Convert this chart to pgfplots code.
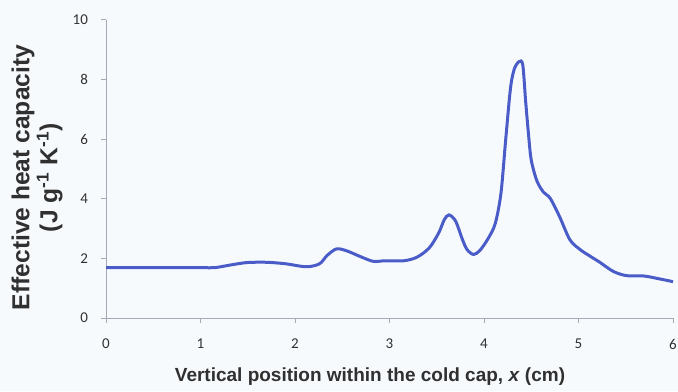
\documentclass[border=0pt]{standalone}
\usepackage{pgfplots}
\pgfplotsset{compat=1.18}
\usetikzlibrary{backgrounds}
\usepackage{fontspec}
\setmainfont{Liberation Sans}
\newfontfamily\tickfont{Carlito}
\definecolor{curve}{HTML}{4A5CC8}
\definecolor{axgray}{HTML}{A8A8B8}
\definecolor{txt}{HTML}{303030}
\definecolor{bg}{HTML}{F7FAFD}
\begin{document}
\begin{tikzpicture}
\begin{axis}[
  name=ax,
  scale only axis,
  width=283.5pt, height=149pt,
  xmin=0, xmax=6, ymin=0, ymax=10,
  xtick={0,1,...,6}, ytick={0,2,...,10},
  axis x line*=bottom, axis y line*=left,
  axis line style={axgray, line width=0.5pt},
  tick style={axgray, line width=0.5pt},
  tick align=outside, major tick length=2.5pt,
  /pgf/number format/assume math mode=true,
  xticklabel style={font=\tickfont\fontsize{7.5}{9}\selectfont, text=txt, anchor=north, yshift=-4.5pt},
  yticklabel style={font=\tickfont\fontsize{7.5}{9}\selectfont, text=txt, anchor=east, xshift=-3pt},
  xlabel={Vertical position within the cold cap, \textit{x} (cm)},
  ylabel={Effective heat capacity\\(J g\textsuperscript{-1} K\textsuperscript{-1})},
  xlabel style={font=\bfseries\fontsize{9.5}{12.5}\selectfont, text=txt, at={(axis description cs:0.4656,-0.195)}, anchor=center},
  ylabel style={font=\bfseries\fontsize{12.3}{14}\selectfont, text=txt, at={(axis description cs:-0.1217,0.4715)}, anchor=center, align=center},
  clip=false,
]
\addplot[curve, line width=1.5pt, smooth, tension=0.5] coordinates {
(0.00,1.69) (0.50,1.69) (1.00,1.69) (1.15,1.69) (1.32,1.78) (1.49,1.86) (1.70,1.87)
(1.90,1.82) (2.12,1.72) (2.26,1.82) (2.34,2.10) (2.44,2.32) (2.55,2.25)
(2.70,2.05) (2.83,1.90) (2.95,1.92) (3.15,1.92) (3.29,2.04) (3.42,2.35)
(3.52,2.85) (3.58,3.30) (3.63,3.46) (3.70,3.25) (3.77,2.65) (3.82,2.30)
(3.89,2.13) (3.96,2.28) (4.05,2.70) (4.12,3.18) (4.18,4.20) (4.23,6.00)
(4.28,7.70) (4.32,8.35) (4.37,8.60) (4.41,8.50) (4.44,7.30) (4.47,6.20)
(4.50,5.30) (4.56,4.60) (4.63,4.22) (4.70,4.02) (4.80,3.40) (4.91,2.62)
(5.02,2.29) (5.12,2.08) (5.23,1.86) (5.37,1.56) (5.51,1.42) (5.69,1.41)
(5.83,1.33) (6.00,1.22)
};
\end{axis}
\pgfresetboundingbox
\path ([xshift=-53pt,yshift=-36.5pt]ax.south west) rectangle ([xshift=2.5pt,yshift=10pt]ax.north east);
\begin{scope}[on background layer]
\fill[bg] ([xshift=-53pt,yshift=-36.5pt]ax.south west) rectangle ([xshift=2.5pt,yshift=10pt]ax.north east);
\end{scope}
\end{tikzpicture}
\end{document}
